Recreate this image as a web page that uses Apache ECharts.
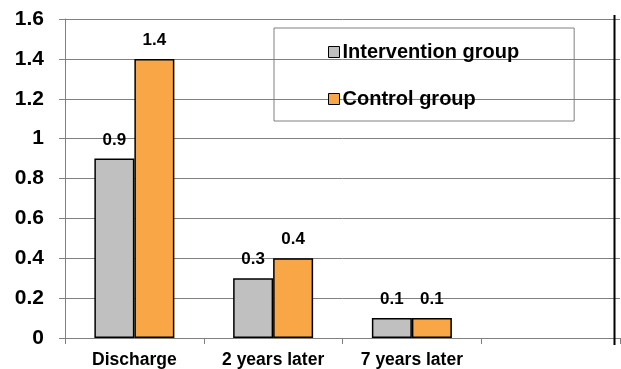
<!DOCTYPE html>
<html><head><meta charset="utf-8">
<script src="https://cdn.jsdelivr.net/npm/echarts@6/dist/echarts.min.js"></script>
<style>html,body{margin:0;padding:0;background:#fff}#c{width:621px;height:369px}</style>
</head><body><div id="c"></div>
<script>
var categories = ['Discharge', '2 years later', '7 years later', ''];
var intervention = [0.9, 0.3, 0.1, null];
var control = [1.4, 0.4, 0.1, null];
var seriesNames = ['Intervention group', 'Control group'];
var yTicks = { min: 0, max: 1.6, interval: 0.2 };

var FONT = '"Liberation Sans", Arial, sans-serif';
var chart = echarts.init(document.getElementById('c'));
var labelStyle = {
  show: true, position: 'top', distance: 10,
  fontFamily: FONT, fontWeight: 'bold', fontSize: 17, color: '#000',
  formatter: function (p) { return p.value == null ? '' : p.value; }
};
chart.setOption({
  animation: false,
  grid: { left: 65, right: 1, top: 19, bottom: 31 },
  legend: {
    orient: 'vertical', left: 274, top: 28,
    padding: [14, 55, 12, 54],
    borderColor: '#808080', borderWidth: 1,
    itemWidth: 11, itemHeight: 11, itemGap: 27,
    icon: 'rect',
    textStyle: { fontFamily: FONT, fontWeight: 'bold', fontSize: 20, color: '#000', lineHeight: 20, padding: [0, 0, 0, -2] },
    itemStyle: { borderColor: '#000', borderWidth: 1 },
    data: seriesNames
  },
  xAxis: {
    type: 'category', data: categories,
    axisLine: { lineStyle: { color: '#808080', width: 1 } },
    axisTick: { show: true, length: 6, lineStyle: { color: '#808080' } },
    axisLabel: { fontFamily: FONT, fontWeight: 'bold', fontSize: 17.5, color: '#000', margin: 13 }
  },
  yAxis: {
    type: 'value', min: yTicks.min, max: yTicks.max, interval: yTicks.interval,
    axisLine: { show: true, lineStyle: { color: '#808080', width: 1 } },
    axisTick: { show: true, length: 6, lineStyle: { color: '#808080' } },
    splitLine: { lineStyle: { color: '#808080', width: 1 } },
    axisLabel: { fontFamily: FONT, fontWeight: 'bold', fontSize: 21, color: '#000', margin: 21,
      formatter: function (v) { return String(Math.round(v * 10) / 10); } }
  },
  series: [
    { name: seriesNames[0], type: 'bar', data: intervention, barWidth: 40, barGap: '0%',
      itemStyle: { color: '#C0C0C0', borderColor: '#000', borderWidth: 1.5 }, label: labelStyle },
    { name: seriesNames[1], type: 'bar', data: control, barWidth: 40,
      itemStyle: { color: '#F9A647', borderColor: '#000', borderWidth: 1.5 }, label: labelStyle }
  ],
  graphic: [
    { type: 'line', shape: { x1: 614.5, y1: 15, x2: 614.5, y2: 345 }, style: { stroke: '#000', lineWidth: 2 }, z: 100 }
  ]
});
</script></body></html>
